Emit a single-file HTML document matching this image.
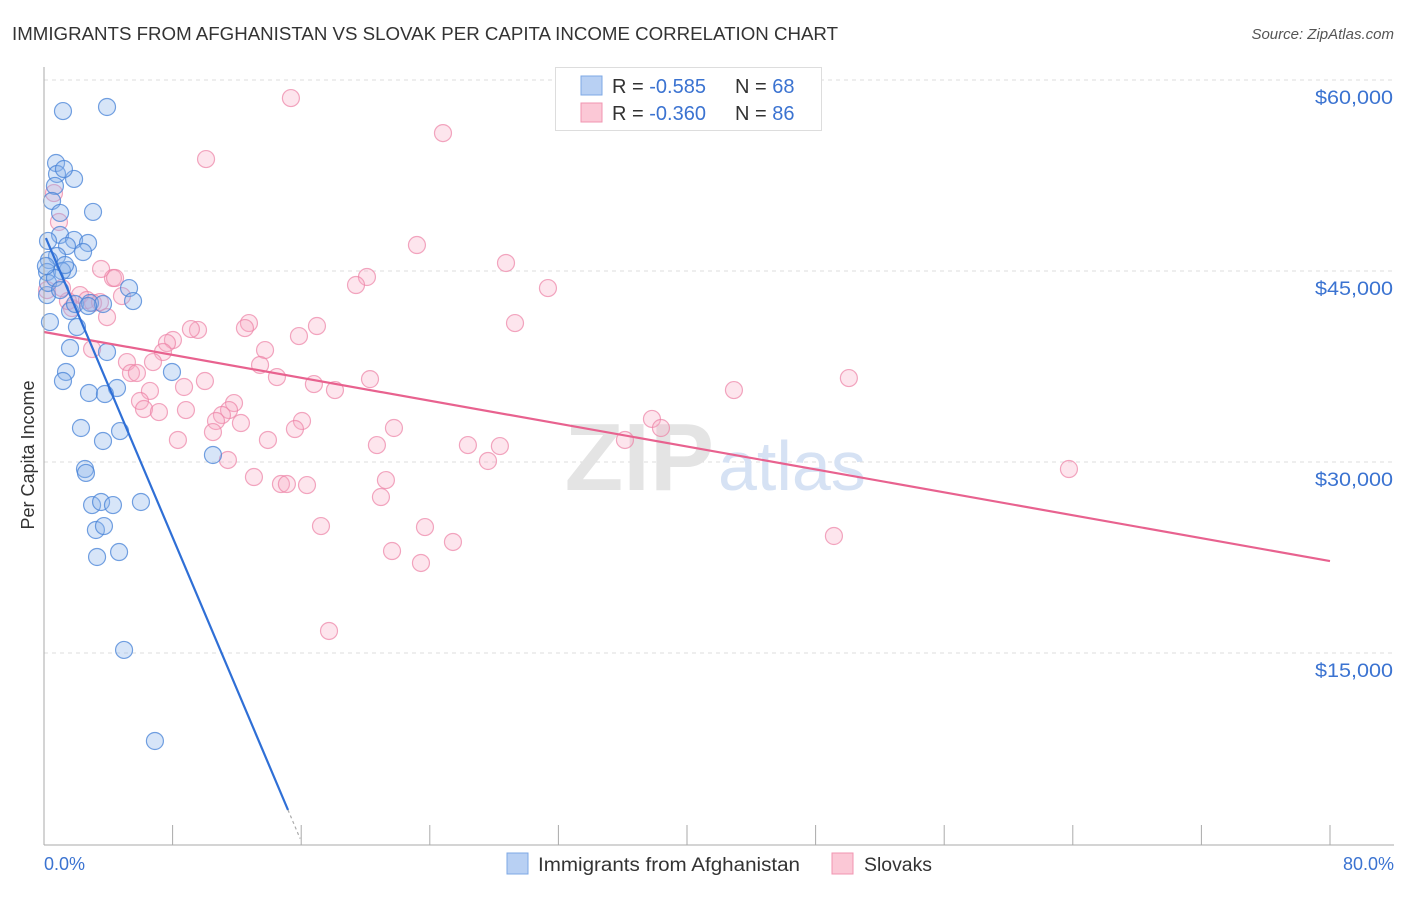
<!DOCTYPE html>
<html><head><meta charset="utf-8"><style>
body{margin:0;background:#fff;font-family:"Liberation Sans",sans-serif;}
svg text{font-family:"Liberation Sans",sans-serif;}
</style></head><body>
<svg id="chart" width="1406" height="892" viewBox="0 0 1406 892" xmlns="http://www.w3.org/2000/svg">
<text x="12" y="40" font-size="18" fill="#333" textLength="826" lengthAdjust="spacingAndGlyphs">IMMIGRANTS FROM AFGHANISTAN VS SLOVAK PER CAPITA INCOME CORRELATION CHART</text>
<text x="1394" y="39" font-size="15" fill="#555" text-anchor="end" font-style="italic">Source: ZipAtlas.com</text>
<g id="grid"></g>
<text x="714" y="490" font-size="96" font-family="Liberation Serif" fill="#e4e4e4" text-anchor="end" font-weight="bold">ZIP</text>
<text x="718" y="490" font-size="70" fill="#d6e2f4">atlas</text>
<g id="pts"></g>
<g id="axes"></g>
<text x="34" y="455" font-size="18" fill="#333" text-anchor="middle" transform="rotate(-90 34 455)">Per Capita Income</text>
<text x="44" y="870" font-size="18" fill="#3b73d1">0.0%</text>
<text x="1394" y="870" font-size="18" fill="#3b73d1" text-anchor="end">80.0%</text>
<g>
<rect x="555.5" y="67.5" width="266" height="63" fill="#fff" stroke="#ddd"/>
<rect x="581" y="76" width="21" height="19" fill="#b8d0f3" stroke="#7ea8e6"/>
<rect x="581" y="103" width="21" height="19" fill="#fbc8d6" stroke="#f095b0"/>
<text x="612" y="93" font-size="20" fill="#333">R = <tspan fill="#3b73d1">-0.585</tspan><tspan x="735">N = </tspan><tspan fill="#3b73d1">68</tspan></text>
<text x="612" y="120" font-size="20" fill="#333">R = <tspan fill="#3b73d1">-0.360</tspan><tspan x="735">N = </tspan><tspan fill="#3b73d1">86</tspan></text>
</g>
<g>
<rect x="507" y="853" width="21" height="21" fill="#b8d0f3" stroke="#7ea8e6"/>
<text x="538" y="871" font-size="19" fill="#333" textLength="262" lengthAdjust="spacingAndGlyphs">Immigrants from Afghanistan</text>
<rect x="832" y="853" width="21" height="21" fill="#fbc8d6" stroke="#f095b0"/>
<text x="864" y="871" font-size="19" fill="#333" textLength="68" lengthAdjust="spacingAndGlyphs">Slovaks</text>
</g>
</svg>
<script>
const yTicks=[15000,30000,45000,60000];
const yTickLabels=["$15,000","$30,000","$45,000","$60,000"];
const xTicks=[0,8,16,24,32,40,48,56,64,72,80];
const afgX=[1.18,3.92,0.75,0.81,1.87,1.24,0.68,0.50,3.05,1.00,1.00,1.87,2.74,0.25,1.43,2.43,0.81,0.31,0.19,1.49,1.12,1.31,0.19,0.37,1.62,1.93,2.86,3.67,5.29,5.54,2.05,1.62,3.92,1.37,1.18,2.80,4.54,3.79,2.30,4.73,3.67,2.55,2.61,7.96,10.51,2.99,3.55,4.29,6.03,3.23,3.73,3.30,4.67,4.98,6.90,0.25,0.68,0.12,1.00,2.74];
const afgY=[57560,57880,53480,52620,52230,53010,51680,50500,49640,49560,47830,47440,47200,47360,46960,46490,46180,45860,44920,45080,45000,45470,43110,40990,41860,42410,42490,42410,43660,42640,40600,38950,38640,37070,36360,35420,35810,35340,32670,32430,31650,29450,29140,37070,30550,26620,26860,26620,26860,24660,24970,22540,22930,15240,8090,44060,44450,45390,43500,42250];
const svkX=[15.36,24.82,10.08,0.62,0.93,23.20,28.74,3.55,4.29,4.42,20.09,19.41,31.35,0.19,2.24,4.85,2.67,1.74,3.05,3.48,3.92,1.49,9.58,9.14,12.75,12.50,16.98,15.86,29.30,8.02,7.65,7.40,2.99,5.16,13.75,5.41,5.78,6.78,13.44,14.49,10.01,8.71,16.79,18.10,20.28,6.59,5.97,11.82,11.51,6.22,7.15,8.83,11.07,10.70,16.05,15.61,12.25,10.51,8.33,13.93,21.77,20.71,26.37,28.36,27.62,37.82,38.38,36.14,42.92,50.07,11.44,13.06,14.74,15.11,16.36,21.27,20.96,17.23,23.70,25.44,21.65,23.45,49.14,63.76,17.73,1.12];
const svkY=[58580,55830,53790,51120,48850,47040,45630,45160,44450,44450,44530,43900,43660,43500,43110,43030,42720,42090,42490,42560,41380,42640,40370,40440,40910,40520,40680,39890,40910,39580,39340,38640,38870,37850,38790,36990,36990,37850,37620,36670,36360,35890,36120,35650,36510,35580,34790,34630,34080,34160,33920,34080,33690,33220,33220,32590,33060,32350,31730,31730,32670,31330,31330,31250,30080,33380,32670,31730,35650,36590,30160,28820,28270,28270,28190,28580,27250,24970,24890,23720,23010,22070,24190,29450,16730,43660];
const afgTrend=[[0.12,47590],[15.18,2670]];
const svkTrend=[[0,40210],[80,22220]];
const X0=44,X1=1330,Y0=844,PX=764/60000;
function sx(v){return X0+(v/80)*(X1-X0);}
function sy(v){return Y0-v*PX;}
const NS="http://www.w3.org/2000/svg";
function mk(tag,attrs,parent){const e=document.createElementNS(NS,tag);for(const k in attrs)e.setAttribute(k,attrs[k]);parent.appendChild(e);return e;}
const grid=document.getElementById('grid'),axes=document.getElementById('axes'),pts=document.getElementById('pts');
yTicks.forEach((t,i)=>{
 const l=mk('line',{x1:X0,x2:1394,y1:sy(t),y2:sy(t),stroke:'#ddd','stroke-dasharray':'4,4'},grid);
 
 
 const tx=mk('text',{x:1393,y:sy(t)+24,'font-size':19,fill:'#3b73d1','text-anchor':'end',textLength:78,lengthAdjust:'spacingAndGlyphs'},grid);
 tx.textContent=yTickLabels[i];
 
 
});
const ax=mk('line',{x1:X0,x2:X0,y1:67,y2:845,stroke:'#aaa'},axes);


const bx=mk('line',{x1:X0,x2:1394,y1:845,y2:845,stroke:'#aaa'},axes);


xTicks.forEach(t=>{
 const l=mk('line',{x1:sx(t),x2:sx(t),y1:825,y2:845,stroke:'#aaa'},axes);
 
 
});
function dots(xs,ys,fill,stroke,name){
 xs.forEach((x,i)=>{
  const c=mk('circle',{cx:sx(x),cy:sy(ys[i]),r:8.5,fill:fill,stroke:stroke,'stroke-width':1.2},pts);
  
  
 });
}
dots(svkX,svkY,'rgba(248,170,195,0.3)','rgba(236,130,165,0.7)','slovak-point');
dots(afgX,afgY,'rgba(140,180,235,0.35)','rgba(70,130,215,0.75)','afghanistan-point');
const t1=mk('line',{x1:sx(svkTrend[0][0]),y1:sy(svkTrend[0][1]),x2:sx(svkTrend[1][0]),y2:sy(svkTrend[1][1]),stroke:'#e8628f','stroke-width':2.2},pts);


const t2=mk('line',{x1:sx(afgTrend[0][0]),y1:sy(afgTrend[0][1]),x2:sx(afgTrend[1][0]),y2:sy(afgTrend[1][1]),stroke:'#2f6fd6','stroke-width':2.2},pts);


const ex=afgTrend[1][0]+(afgTrend[1][0]-afgTrend[0][0])*0.05, ey=afgTrend[1][1]+(afgTrend[1][1]-afgTrend[0][1])*0.05;
const t3=mk('line',{x1:sx(afgTrend[1][0]),y1:sy(afgTrend[1][1]),x2:sx(ex),y2:sy(ey),stroke:'#aaa','stroke-width':1.2,'stroke-dasharray':'3,3'},pts);


</script>
</body></html>
